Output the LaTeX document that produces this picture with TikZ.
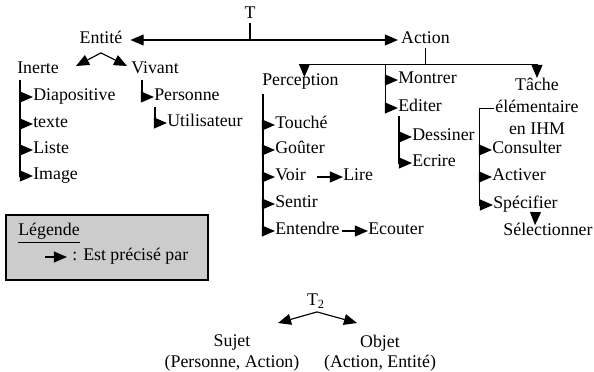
\documentclass[tikz,border=0pt]{standalone}
\usepackage{fontspec}
\setmainfont{Liberation Serif}
\usetikzlibrary{arrows.meta,calc}

\begin{document}
\begin{tikzpicture}[x=0.69pt,y=-0.69pt,
  font=\fontsize{12.3}{14}\selectfont,
  lab/.style={inner sep=0pt,text height=8pt,text depth=2.5pt},
  leaf/.style={lab,anchor=west},
  ln/.style={line width=0.8pt},
  fl/.style={ln,-{Triangle[length=9pt,width=7.5pt]}}]
\useasboundingbox (0,0) rectangle (594,372);

% racine T
\node[lab] (t) at (250,15) {T};
\node[lab,inner xsep=5.5pt] (entite) at (101,40) {Entité};
\node[leaf,inner xsep=2pt] (action) at (398,40) {Action};
\draw[fl] (t.south) |- (entite.east);
\draw[fl] (t.south) |- (action.west);

% Entite
\node[leaf] (inerte) at (17,70) {Inerte};
\node[leaf] (vivant) at (131,70) {Vivant};
\coordinate (ent-l) at (76,66);
\coordinate (ent-r) at (127,66);
\draw[fl] ($(entite.south)+(0,5)$) -- (ent-l);
\draw[fl] ($(entite.south)+(0,5)$) -- (ent-r);

\node[leaf] (diapo) at (33,97) {Diapositive};
\node[leaf] (texte) at (33,124) {texte};
\node[leaf] (liste) at (33,150) {Liste};
\node[leaf] (image) at (33,176) {Image};
\coordinate (inerte-t) at ($(inerte.south west)+(3,2)$);
\draw[fl] (inerte-t) |- (diapo.west);
\draw[fl] (inerte-t) |- (texte.west);
\draw[fl] (inerte-t) |- (liste.west);
\draw[fl] (inerte-t) |- (image.west);

\node[leaf] (personne) at (154,97) {Personne};
\node[leaf] (utilisateur) at (167,123) {Utilisateur};
\coordinate (vivant-t) at ($(vivant.south west)+(11,2)$);
\coordinate (personne-t) at ($(personne.south west)+(1,2)$);
\draw[fl] (vivant-t) |- (personne.west);
\draw[fl] (personne-t) |- (utilisateur.west);

% Action
\node[leaf] (perception) at (262,82) {Perception};
\node[leaf] (montrer) at (398,80) {Montrer};
\node[leaf] (editer) at (398,108) {Editer};
\node[align=center,inner sep=0pt,anchor=north,font=\fontsize{12.3}{15.2}\selectfont] (tache) at (537,78) {Tâche\\élémentaire\\en IHM};
\coordinate (bar) at ($(action.south)+(0,17)$);
\draw[ln] (action.south) -- (bar);
\draw[fl] (bar) -| ($(perception.north)+(4,3)$);
\draw[fl] (bar) -| (tache.north);
\coordinate (mon-t) at ($(bar)+(-40,0)$);
\draw[fl] (mon-t) |- (montrer.west);
\draw[fl] (mon-t) |- (editer.west);

\node[leaf] (dessiner) at (412,137) {Dessiner};
\node[leaf] (ecrire) at (412,163) {Ecrire};
\coordinate (editer-t) at ($(editer.south west)+(1,0)$);
\draw[fl] (editer-t) |- (dessiner.west);
\draw[fl] (editer-t) |- (ecrire.west);

% Perception
\node[leaf] (touche) at (275,125) {Touché};
\node[leaf] (gouter) at (275,150) {Goûter};
\node[leaf] (voir) at (275,177) {Voir};
\node[leaf] (sentir) at (275,204) {Sentir};
\node[leaf] (entendre) at (275,231) {Entendre};
\node[leaf] (lire) at (343,177) {Lire};
\node[leaf] (ecouter) at (368,231) {Ecouter};
\coordinate (perc-t) at ($(perception.south west)+(1,4)$);
\draw[fl] (perc-t) |- (touche.west);
\draw[fl] (perc-t) |- (gouter.west);
\draw[fl] (perc-t) |- (voir.west);
\draw[fl] (perc-t) |- (sentir.west);
\draw[fl] (perc-t) |- (entendre.west);
\draw[fl] ($(voir.east)+(11,0)$) -- (lire.west);
\draw[fl] ($(entendre.east)+(2,0)$) -- (ecouter.west);

% Tache elementaire
\node[leaf] (consulter) at (492,150) {Consulter};
\node[leaf] (activer) at (492,177) {Activer};
\node[leaf] (specifier) at (493,205) {Spécifier};
\node[lab] (selection) at (548,232) {Sélectionner};
\coordinate (tache-t) at ($(tache.west)+(-16,2)$);
\draw[fl] ($(tache.west)+(-1,2)$) -- (tache-t) |- (consulter.west);
\draw[fl] (tache-t) |- (activer.west);
\draw[fl] (tache-t) |- (specifier.west);
\draw[fl] ($(specifier.south)+(10,0)$) -- ($(selection.north)+(-13,1)$);

% legende
\draw[ln,fill=gray!40] (6,215) rectangle (208,280);
\node[leaf] (legende) at (18,232) {\underline{Légende}};
\coordinate (leg-a) at (45,257);
\node[leaf,inner xsep=3.5pt] (precise) at (67,257) {: Est précisé par};
\draw[fl] (leg-a) -- (precise.west);

% T2
\node[lab] (t2) at (316,302) {T\textsubscript{2}};
\coordinate (t2-l) at (278,323);
\coordinate (t2-r) at (357,323);
\draw[fl] ($(t2.south)+(1,2)$) -- (t2-l);
\draw[fl] ($(t2.south)+(1,2)$) -- (t2-r);
\node[align=center,inner sep=0pt] (sujet) at (232,353) {Sujet\\(Personne, Action)};
\node[align=center,inner sep=0pt] (objet) at (380,353) {Objet\\(Action, Entité)};
\end{tikzpicture}
\end{document}
